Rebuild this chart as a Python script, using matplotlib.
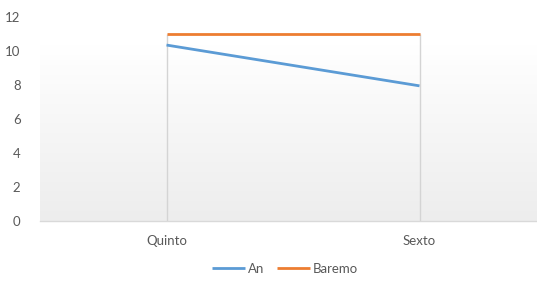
import matplotlib
matplotlib.use("Agg")
import matplotlib.pyplot as plt
import numpy as np

categories = ["Quinto", "Sexto"]
an_values = [10.35, 7.95]
baremo_values = [11.0, 11.0]
yticks = [0, 2, 4, 6, 8, 10, 12]

plt.rcParams['font.family'] = ['Lato', 'DejaVu Sans']

W, H = 537, 282
fig = plt.figure(figsize=(W/100, H/100), dpi=100)
fig.patch.set_facecolor('white')
left, right, bottom, top = 40, 546, 221, 17
ax = fig.add_axes([left/W, (H-bottom)/H, (right-left)/W, (bottom-top)/H])
ax.set_facecolor('none')

x = np.arange(len(categories))
ax.set_xlim(-0.5, len(categories)-0.5)
ax.set_ylim(0, 12)

# gradient background
grad = np.linspace(0, 1, 256).reshape(-1, 1)
cmap = matplotlib.colors.LinearSegmentedColormap.from_list('g', ['#ededed', '#ffffff'])
ax.imshow(grad, extent=(-0.5, len(categories)-0.5, 0, 10.3), origin='lower', aspect='auto',
          cmap=cmap, zorder=0)

# drop lines
ax.vlines(x, 0, np.maximum(an_values, baremo_values), color='#d4d4d4', lw=1, zorder=1)

ax.plot(x, an_values, color='#5b9bd5', lw=2.0, label='An', zorder=3, solid_capstyle='butt')
ax.plot(x, baremo_values, color='#ed7d31', lw=2.0, label='Baremo', zorder=3, solid_capstyle='butt')

for s in ['top', 'right', 'left']:
    ax.spines[s].set_visible(False)
ax.spines['bottom'].set_color('#d9d9d9')
ax.spines['bottom'].set_linewidth(1)

ax.set_xticks(x)
ax.set_xticklabels(categories)
ax.set_yticks(yticks)
ax.tick_params(axis='both', length=0, colors='#595959', labelsize=9.5)
ax.tick_params(axis='x', pad=10)
ax.tick_params(axis='y', pad=14)

leg = fig.legend(loc='center', bbox_to_anchor=(285/W, (H-269)/H), ncol=2, frameon=False,
                 fontsize=9.5, handlelength=2.5, handletextpad=0.2, columnspacing=1.0,
                 labelcolor='#595959')

fig.savefig('out.png', dpi=100)
